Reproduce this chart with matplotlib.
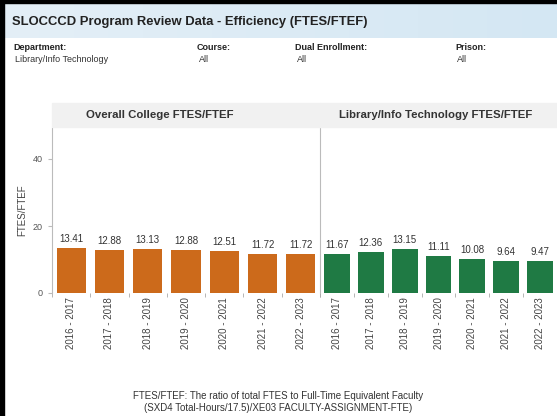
import matplotlib.pyplot as plt
import numpy as np
from matplotlib.patches import Rectangle
from matplotlib.colors import LinearSegmentedColormap

plt.rcParams['font.family'] = ['Liberation Sans', 'DejaVu Sans']

# data
years = ["2016 - 2017", "2017 - 2018", "2018 - 2019", "2019 - 2020",
         "2020 - 2021", "2021 - 2022", "2022 - 2023"]
college_vals = [13.41, 12.88, 13.13, 12.88, 12.51, 11.72, 11.72]
dept_vals = [11.67, 12.36, 13.15, 11.11, 10.08, 9.64, 9.47]
panel_titles = ["Overall College FTES/FTEF", "Library/Info Technology FTES/FTEF"]
filters = [("Department:", "Library/Info Technology"), ("Course:", "All"),
           ("Dual Enrollment:", "All"), ("Prison:", "All")]

W, H = 557, 416
fig = plt.figure(figsize=(W / 100, H / 100), dpi=100)
fig.patch.set_facecolor("white")


def fx(px):
    return px / W


def fy(py):
    return 1 - py / H


# title band with light gradient
band = fig.add_axes([fx(4), fy(38), fx(553), (38 - 4) / H])
grad = np.linspace(0, 1, 256).reshape(1, -1)
cmap = LinearSegmentedColormap.from_list("band", ["#e4eff7", "#d4e7f3"])
band.imshow(grad, aspect="auto", cmap=cmap, extent=[0, 1, 0, 1])
band.axis("off")

# black frame (left / top)
fig.patches.append(Rectangle((0, 0), fx(4), 1, transform=fig.transFigure,
                             color="black", zorder=10))
fig.patches.append(Rectangle((0, fy(3)), 1, 3 / H, transform=fig.transFigure,
                             color="black", zorder=10))

fig.text(fx(12), fy(22), "SLOCCCD Program Review Data - Efficiency (FTES/FTEF)",
         fontsize=9.4, fontweight="bold", color="#222222", va="center")

filter_x = [13, 197, 295, 455]
for (lab, val), x in zip(filters, filter_x):
    fig.text(fx(x), fy(47), lab, fontsize=6.5, fontweight="bold", color="#222222", va="center")
    fig.text(fx(x + 2), fy(60), val, fontsize=6.5, color="#333333", va="center")

# panel header strips
for x0, x1 in [(52, 320), (320, 557)]:
    fig.patches.append(Rectangle((fx(x0), fy(127)), fx(x1 - x0), 24 / H,
                                 transform=fig.transFigure, color="#f1f1f1", zorder=0))
fig.text(fx(160), fy(115), panel_titles[0], fontsize=8.2, fontweight="bold",
         color="#333333", ha="center", va="center")
fig.text(fx(436), fy(115), panel_titles[1], fontsize=8.2, fontweight="bold",
         color="#333333", ha="center", va="center")

y_bottom, y_top = 293, 128
ylim_top = (y_bottom - y_top) / 3.35

panels = [((52, 320), college_vals, "#cc6a1b"), ((320, 557), dept_vals, "#1f7a44")]
for i, ((x0, x1), vals, col) in enumerate(panels):
    ax = fig.add_axes([fx(x0), fy(y_bottom), fx(x1 - x0), (y_bottom - y_top) / H])
    ax.set_facecolor("none")
    x = np.arange(len(years))
    ax.bar(x, vals, width=0.76, color=col)
    for xi, v in zip(x, vals):
        ax.text(xi, v + 1.2, f"{v:.2f}", ha="center", va="bottom",
                fontsize=7, color="#333333")
    ax.set_xlim(-0.5, len(years) - 0.5)
    ax.set_ylim(0, ylim_top)
    ax.set_xticks(x)
    ax.set_xticklabels(years, rotation=90, fontsize=7, color="#444444")
    ax.set_xticks(np.arange(len(years) + 1) - 0.5, minor=True)
    ax.tick_params(axis="x", which="major", length=0, pad=3)
    ax.tick_params(axis="x", which="minor", length=3, color="#aaaaaa")
    for s in ["top", "right", "bottom"]:
        ax.spines[s].set_visible(False)
    ax.spines["left"].set_color("#bbbbbb")
    ax.spines["left"].set_linewidth(0.8)
    if i == 0:
        ax.set_yticks([0, 20, 40])
        ax.tick_params(axis="y", labelsize=6.5, labelcolor="#555555",
                       length=3, color="#bbbbbb")
        ax.set_ylabel("FTES/FTEF", fontsize=7, color="#444444", labelpad=4)
    else:
        ax.set_yticks([])

fig.text(0.5, fy(396), "FTES/FTEF: The ratio of total FTES to Full-Time Equivalent Faculty",
         fontsize=7, color="#333333", ha="center", va="center")
fig.text(0.5, fy(408), "(SXD4 Total-Hours/17.5)/XE03 FACULTY-ASSIGNMENT-FTE)",
         fontsize=7, color="#333333", ha="center", va="center")

fig.savefig("out.png", dpi=100)
